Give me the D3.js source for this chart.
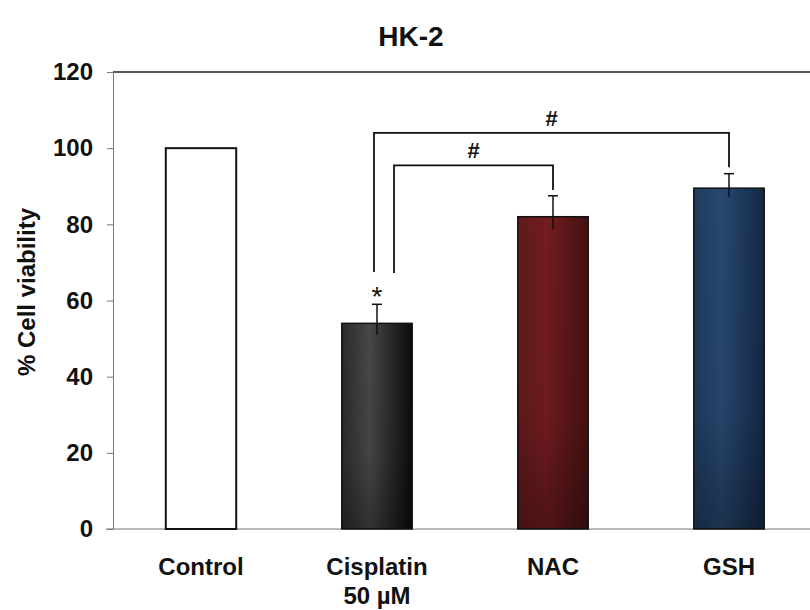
<!DOCTYPE html>
<html>
<head>
<meta charset="utf-8">
<script src="https://cdn.jsdelivr.net/npm/d3@7"></script>
<style>
  html, body { margin: 0; padding: 0; background: #fff; }
  svg { display: block; }
  text { font-family: "Liberation Sans", Arial, sans-serif; }
</style>
</head>
<body>
<svg id="chart" width="810" height="610"></svg>
<script>
// Treatment groups and measured viability (% of control)
const categories = ["Control", "Cisplatin", "NAC", "GSH"];
const categorySublabels = ["", "50 µM", "", ""];
const viability = [100, 54, 82, 89.5];
const viabilityErr = [0, 5, 5.5, 3.8];
const yTicks = [0, 20, 40, 60, 80, 100, 120];

// Significance brackets: from/to group, bracket height and leg ends (in % units)
const bracketFrom = ["Cisplatin", "Cisplatin"];
const bracketTo = ["NAC", "GSH"];
const bracketTop = [95.5, 104];
const bracketLeftEnd = [67.2, 67.5];
const bracketRightEnd = [89, 95];
const bracketMark = ["#", "#"];

const svg = d3.select("#chart");
const plotLeft = 113, plotRight = 817, plotTop = 72, plotBottom = 529;

const x = d3.scaleBand()
  .domain(categories)
  .range([plotLeft, plotRight])
  .paddingInner(0.6)
  .paddingOuter(0.3);

const y = d3.scaleLinear().domain([0, 120]).range([plotBottom, plotTop]);

// Gradients for the filled bars
const defs = svg.append("defs");
const fills = {
  Cisplatin: ["#474747", "#2b2b2b", "#0b0b0b"],
  NAC: ["#721c20", "#5f1a1b", "#451111"],
  GSH: ["#284870", "#1f3b5f", "#142845"]
};
Object.entries(fills).forEach(([k, c]) => {
  const g = defs.append("linearGradient").attr("id", "h-" + k)
    .attr("x1", "0").attr("x2", "1").attr("y1", "0").attr("y2", "0");
  g.append("stop").attr("offset", "0%").attr("stop-color", c[1]);
  g.append("stop").attr("offset", "40%").attr("stop-color", c[0]);
  g.append("stop").attr("offset", "100%").attr("stop-color", c[2]);
});
const shade = defs.append("linearGradient").attr("id", "v-shade")
  .attr("x1", "0").attr("x2", "0").attr("y1", "0").attr("y2", "1");
shade.append("stop").attr("offset", "0%").attr("stop-color", "#000").attr("stop-opacity", 0);
shade.append("stop").attr("offset", "65%").attr("stop-color", "#000").attr("stop-opacity", 0.05);
shade.append("stop").attr("offset", "100%").attr("stop-color", "#000").attr("stop-opacity", 0.3);

// Title
svg.append("text")
  .attr("x", 411).attr("y", 46)
  .attr("text-anchor", "middle")
  .attr("font-size", 28).attr("font-weight", "bold")
  .attr("fill", "#111")
  .text("HK-2");

// Top border
svg.append("line")
  .attr("x1", plotLeft).attr("x2", 810)
  .attr("y1", y(120)).attr("y2", y(120))
  .attr("stroke", "#222").attr("stroke-width", 1.5);

// Y axis
const yAxis = svg.append("g")
  .attr("transform", `translate(${plotLeft},0)`)
  .call(d3.axisLeft(y).tickValues(yTicks).tickSize(6).tickPadding(14));
yAxis.select(".domain").attr("stroke", "#777");
yAxis.selectAll(".tick line").attr("stroke", "#777");
yAxis.selectAll(".tick text")
  .attr("font-size", 24).attr("font-weight", "bold").attr("fill", "#111")
  .attr("font-family", "'Liberation Sans', Arial, sans-serif");

// Baseline
svg.append("line")
  .attr("x1", plotLeft - 7).attr("x2", 810)
  .attr("y1", y(0)).attr("y2", y(0))
  .attr("stroke", "#777").attr("stroke-width", 1);

// Y axis title
svg.append("text")
  .attr("transform", `translate(35,292) rotate(-90)`)
  .attr("text-anchor", "middle")
  .attr("font-size", 24).attr("font-weight", "bold").attr("fill", "#111")
  .text("% Cell viability");

// Bars
const bars = svg.append("g");
categories.forEach((c, i) => {
  const bx = x(c), bw = x.bandwidth();
  const by = y(viability[i]), bh = y(0) - y(viability[i]);
  if (c === "Control") {
    bars.append("rect")
      .attr("x", bx).attr("y", by).attr("width", bw).attr("height", bh)
      .attr("fill", "#fff").attr("stroke", "#111").attr("stroke-width", 2);
  } else {
    bars.append("rect")
      .attr("x", bx).attr("y", by).attr("width", bw).attr("height", bh)
      .attr("fill", `url(#h-${c})`);
    bars.append("rect")
      .attr("x", bx).attr("y", by).attr("width", bw).attr("height", bh)
      .attr("fill", "url(#v-shade)");
    bars.append("rect")
      .attr("x", bx).attr("y", by).attr("width", bw).attr("height", bh)
      .attr("fill", "none").attr("stroke", "#111").attr("stroke-width", 1.5);
  }
});

// Error bars (upper whisker with cap)
const errs = svg.append("g").attr("stroke", "#111").attr("stroke-width", 1.5);
categories.forEach((c, i) => {
  if (!viabilityErr[i]) return;
  const cx = x(c) + x.bandwidth() / 2;
  errs.append("line")
    .attr("x1", cx).attr("x2", cx)
    .attr("y1", y(viability[i] - viabilityErr[i] * 0.6)).attr("y2", y(viability[i] + viabilityErr[i]));
  errs.append("line")
    .attr("x1", cx - 5).attr("x2", cx + 5)
    .attr("y1", y(viability[i] + viabilityErr[i])).attr("y2", y(viability[i] + viabilityErr[i]));
});

// Significance vs control
svg.append("text")
  .attr("x", x("Cisplatin") + x.bandwidth() / 2)
  .attr("y", y(viability[1] + viabilityErr[1]) + 2)
  .attr("text-anchor", "middle")
  .attr("font-size", 28).attr("fill", "#111")
  .text("*");

// Brackets between treatment groups
const legOffset = [17, -3];
const brk = svg.append("g");
bracketFrom.forEach((f, i) => {
  const x1 = x(f) + x.bandwidth() / 2 + legOffset[i];
  const x2 = x(bracketTo[i]) + x.bandwidth() / 2;
  const path = d3.path();
  path.moveTo(x1, y(bracketLeftEnd[i]));
  path.lineTo(x1, y(bracketTop[i]));
  path.lineTo(x2, y(bracketTop[i]));
  path.lineTo(x2, y(bracketRightEnd[i]));
  brk.append("path").attr("d", path.toString())
    .attr("fill", "none").attr("stroke", "#111").attr("stroke-width", 1.8);
  brk.append("text")
    .attr("x", (x1 + x2) / 2).attr("y", y(bracketTop[i]) - 7)
    .attr("text-anchor", "middle")
    .attr("font-size", 22).attr("font-weight", "bold").attr("fill", "#111")
    .text(bracketMark[i]);
});

// Category labels
const xl = svg.append("g");
categories.forEach((c, i) => {
  const cx = x(c) + x.bandwidth() / 2;
  xl.append("text")
    .attr("x", cx).attr("y", 575)
    .attr("text-anchor", "middle")
    .attr("font-size", 24).attr("font-weight", "bold").attr("fill", "#111")
    .text(c);
  if (categorySublabels[i]) {
    xl.append("text")
      .attr("x", cx).attr("y", 604)
      .attr("text-anchor", "middle")
      .attr("font-size", 24).attr("font-weight", "bold").attr("fill", "#111")
      .text(categorySublabels[i]);
  }
});
</script>
</body>
</html>
